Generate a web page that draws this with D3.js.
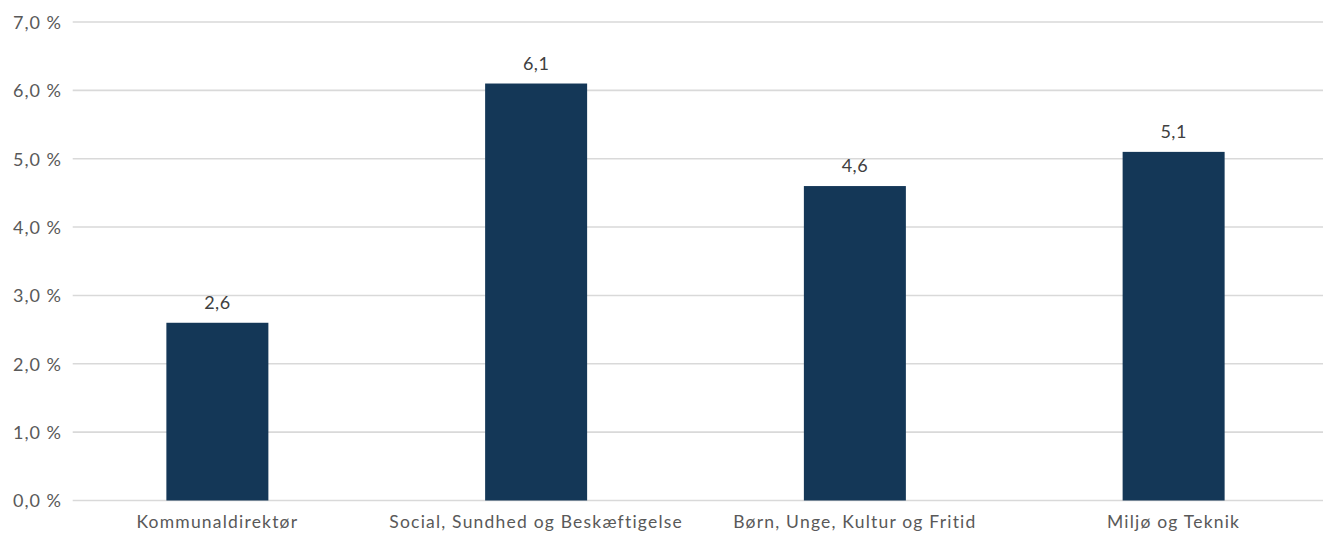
<!DOCTYPE html>
<html>
<head>
<meta charset="utf-8">
<script src="https://cdn.jsdelivr.net/npm/d3@7"></script>
<style>
  html, body { margin: 0; padding: 0; background: #ffffff; }
  svg { display: block; }
  text { font-family: "Lato", "Open Sans", sans-serif; }
</style>
</head>
<body>
<svg id="chart" width="1323" height="542"></svg>
<script>
// Categories and their values (per cent)
const categories = [
  "Kommunaldirektør",
  "Social, Sundhed og Beskæftigelse",
  "Børn, Unge, Kultur og Fritid",
  "Miljø og Teknik"
];
const values = [2.6, 6.1, 4.6, 5.1];
const yTicks = [0, 1, 2, 3, 4, 5, 6, 7];

const data = categories.map((c, i) => ({ category: c, value: values[i] }));

const svg = d3.select("#chart");

const plot = { left: 72.7, right: 1323, top: 22, bottom: 500.5 };

const x = d3.scaleBand()
  .domain(categories)
  .range([58, 1333])
  .paddingInner(0.68)
  .paddingOuter(0.34);

const y = d3.scaleLinear()
  .domain([0, 7])
  .range([plot.bottom, plot.top]);

const fmt = v => d3.format(".1f")(v).replace(".", ",");

// Horizontal gridlines
svg.append("g")
  .selectAll("line")
  .data(yTicks)
  .join("line")
  .attr("x1", plot.left)
  .attr("x2", plot.right)
  .attr("y1", d => y(d))
  .attr("y2", d => y(d))
  .attr("stroke", "#d9d9d9")
  .attr("stroke-width", 1.6);

// Y axis labels
const yAxis = d3.axisLeft(y)
  .tickValues(yTicks)
  .tickSize(0)
  .tickPadding(0)
  .tickFormat(d => fmt(d) + " %");

svg.append("g")
  .attr("transform", "translate(62,0)")
  .call(yAxis)
  .call(g => g.select(".domain").remove())
  .call(g => g.selectAll("text")
    .attr("fill", "#595959")
    .attr("font-size", 18)
    .attr("dy", "0.36em")
    .style("letter-spacing", "1px")
    .style("font-family", "Lato, 'Open Sans', sans-serif"));

// Bars
svg.append("g")
  .selectAll("rect")
  .data(data)
  .join("rect")
  .attr("x", d => x(d.category))
  .attr("width", x.bandwidth())
  .attr("y", d => y(d.value))
  .attr("height", d => y(0) - y(d.value))
  .attr("fill", "#143757");

// Value labels
svg.append("g")
  .selectAll("text")
  .data(data)
  .join("text")
  .attr("x", d => x(d.category) + x.bandwidth() / 2)
  .attr("y", d => y(d.value) - 14)
  .attr("text-anchor", "middle")
  .attr("fill", "#404040")
  .attr("font-size", 18)
  .style("letter-spacing", "0.5px")
  .text(d => fmt(d.value));

// X axis category labels
const xAxis = d3.axisBottom(x).tickSize(0).tickPadding(0);
svg.append("g")
  .attr("transform", `translate(0,${plot.bottom})`)
  .call(xAxis)
  .call(g => g.select(".domain").remove())
  .call(g => g.selectAll("text")
    .attr("fill", "#595959")
    .attr("font-size", 17.5)
    .attr("y", 27)
    .attr("dy", 0)
    .style("letter-spacing", "1.2px")
    .style("font-family", "Lato, 'Open Sans', sans-serif"));
</script>
</body>
</html>
